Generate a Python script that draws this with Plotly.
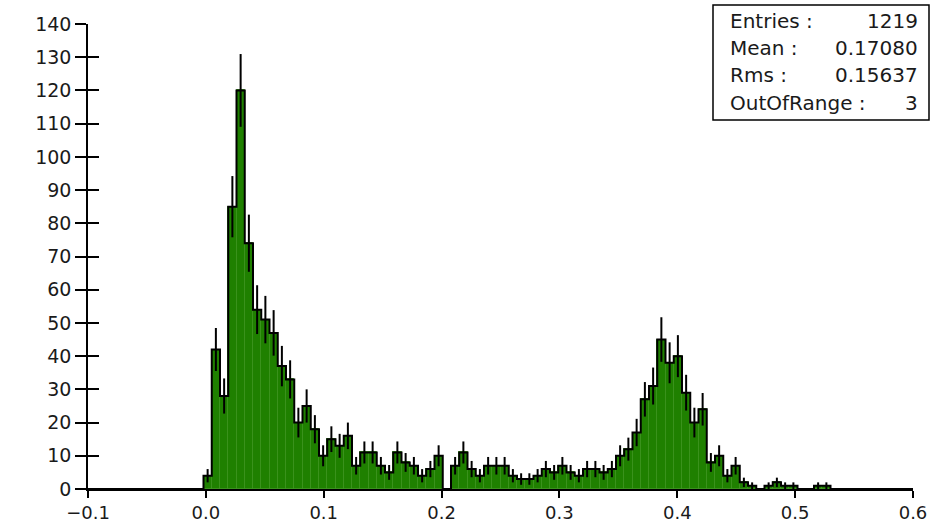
import numpy as np
import plotly.graph_objects as go

# Histogram definition: 100 equal bins on [-0.1, 0.6]
bin_lo = -0.1
bin_hi = 0.6
n_bins = 100

# Entries per bin
counts = [0] * 14 + [
    4, 42, 28, 85, 120, 74, 54, 51, 47, 37,
    33, 20, 25, 18, 10, 15, 13, 16, 7, 11,
    11, 7, 5, 11, 8, 7, 4, 6, 10, 0,
    7, 11, 6, 4, 7, 7, 7, 4, 3, 3,
    4, 6, 5, 7, 5, 4, 6, 6, 5, 6,
    10, 12, 17, 27, 31, 45, 38, 40, 29, 20,
    24, 8, 10, 4, 7, 2, 1, 0, 1, 2,
    1, 1, 0, 0, 1, 1,
] + [0] * 10

# Statistics box
stat_labels = ["Entries :", "Mean :", "Rms :", "OutOfRange :"]
stat_values = ["1219", "0.17080", "0.15637", "3"]

x_ticks = [-0.1, 0.0, 0.1, 0.2, 0.3, 0.4, 0.5, 0.6]
y_ticks = list(range(0, 141, 10))

counts = np.array(counts, dtype=float)
edges = np.linspace(bin_lo, bin_hi, n_bins + 1)
width = edges[1] - edges[0]
centers = 0.5 * (edges[:-1] + edges[1:])
errors = np.sqrt(counts)

FILL = "rgb(31,128,0)"
FONT = "DejaVu Sans"
TXT = "#1a1a1a"

fig = go.Figure()

# filled bins
fig.add_trace(go.Bar(
    x=centers, y=counts, width=width,
    marker=dict(color=FILL, line=dict(color="rgb(58,146,28)", width=1)),
    hoverinfo="skip", showlegend=False,
))

# black step outline of the histogram
fig.add_trace(go.Scatter(
    x=edges, y=np.append(counts, counts[-1]),
    mode="lines", line=dict(color="black", width=2, shape="hv"),
    hoverinfo="skip", showlegend=False,
))

# sqrt(N) error bars at bin centres
nz = counts > 0
fig.add_trace(go.Scatter(
    x=centers[nz], y=counts[nz], mode="markers",
    marker=dict(size=1, opacity=0),
    error_y=dict(type="data", array=errors[nz], width=0,
                 thickness=2, color="black"),
    hoverinfo="skip", showlegend=False,
))

# statistics box
L, R, T, B = 88, 913, 24, 489


def px(xp):
    return (xp - L) / (R - L)


def py(yp):
    return (B - yp) / (B - T)


fig.add_shape(type="rect", xref="paper", yref="paper",
              x0=px(713), x1=px(929), y0=py(120), y1=py(5),
              line=dict(color="black", width=1.5), fillcolor="white")

row_y = [21, 48, 75, 103]
for lab, val, yy in zip(stat_labels, stat_values, row_y):
    fig.add_annotation(xref="paper", yref="paper", x=px(728), y=py(yy),
                       text=lab, showarrow=False, xanchor="left",
                       yanchor="middle", font=dict(family=FONT, size=20, color=TXT))
    fig.add_annotation(xref="paper", yref="paper", x=px(920), y=py(yy),
                       text=val, showarrow=False, xanchor="right",
                       yanchor="middle", font=dict(family=FONT, size=20, color=TXT))

fig.update_layout(
    width=935, height=527,
    margin=dict(l=L, r=935 - R, t=T, b=527 - B, autoexpand=False),
    plot_bgcolor="white", paper_bgcolor="white",
    bargap=0, showlegend=False,
    font=dict(family=FONT, size=19, color=TXT),
    xaxis=dict(range=[bin_lo, bin_hi], tickvals=x_ticks, tickformat=".1f",
               showgrid=False, zeroline=False, showline=True, automargin=False,
               linecolor="black", linewidth=1.5, ticks="outside",
               ticklen=7, tickwidth=1.5, tickcolor="black",
               tickfont=dict(size=18)),
    yaxis=dict(range=[0, 140], tickvals=y_ticks, showgrid=False, automargin=False,
               zeroline=False, showline=True, linecolor="black",
               linewidth=1.5, ticks="outside", ticklen=11, tickwidth=1.5,
               tickcolor="black"),
    yaxis2=dict(range=[0, 140], tickvals=y_ticks, overlaying="y",
                anchor="x", side="left", showgrid=False, zeroline=False,
                showline=False, ticks="inside", ticklen=11, tickwidth=1.5,
                tickcolor="black", showticklabels=False, automargin=False),
)

# empty trace so the inner tick axis is drawn
fig.add_trace(go.Scatter(x=[None], y=[None], yaxis="y2", showlegend=False,
                         hoverinfo="skip"))

fig.write_html("out.html")
